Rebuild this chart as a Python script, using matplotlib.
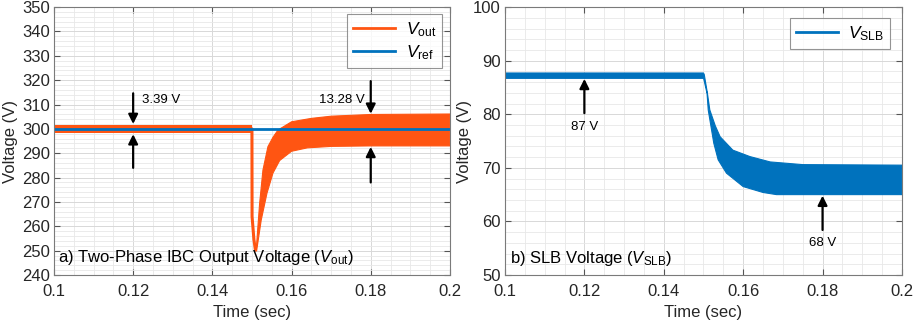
import numpy as np
import matplotlib
matplotlib.use('Agg')
from matplotlib import pyplot as plt

plt.rcParams['font.family'] = 'Liberation Sans'
plt.rcParams['mathtext.fontset'] = 'custom'
plt.rcParams['mathtext.rm'] = 'Liberation Sans'
plt.rcParams['mathtext.it'] = 'Liberation Sans:italic'

# ---- data ----
# a) Vout: steady ripple band before the load step
vout_pre_t = [0.100, 0.150]
vout_pre_lo = [298.4, 298.4]
vout_pre_hi = [301.7, 301.7]
# fast drop right after the step
vout_dip_t = [0.1500, 0.15003, 0.1505, 0.15088]
vout_dip_v = [300.0, 264.0, 254.5, 250.2]
# ripple envelope after the step (upper and lower)
vout_hi_t = [0.15088, 0.15109, 0.15194, 0.15278, 0.15404, 0.1553, 0.15657, 0.160, 0.165, 0.170, 0.180, 0.200]
vout_hi = [250.2, 250.6, 269.4, 283.1, 292.7, 296.5, 299.5, 302.9, 304.3, 305.2, 305.9, 306.1]
vout_lo_t = [0.15088, 0.15117, 0.15235, 0.1538, 0.1553, 0.1570, 0.1600, 0.1640, 0.1700, 0.1800, 0.2000]
vout_lo = [250.2, 249.8, 262.6, 273.6, 281.8, 287.0, 290.8, 292.2, 292.8, 293.0, 293.0]
vref_t = [0.1, 0.2]
vref = [300, 300]

# b) VSLB envelope
slb_hi_t = [0.100, 0.1500, 0.1502, 0.1510, 0.1516, 0.1530, 0.1542, 0.1574, 0.1617, 0.1668, 0.1750, 0.2000]
slb_hi = [87.7, 87.7, 87.4, 83.9, 80.8, 77.8, 75.8, 73.3, 72.1, 71.1, 70.6, 70.5]
slb_lo_t = [0.100, 0.1500, 0.1501, 0.1509, 0.1512, 0.1526, 0.1537, 0.1558, 0.1600, 0.1650, 0.1684, 0.2000]
slb_lo = [86.7, 86.7, 86.5, 83.9, 80.8, 74.6, 71.5, 69.0, 66.5, 65.4, 65.0, 65.0]

xticks = [0.1, 0.12, 0.14, 0.16, 0.18, 0.2]
xticklabels = ['0.1', '0.12', '0.14', '0.16', '0.18', '0.2']

orange = '#FF5512'
blue = '#0072BD'

fig = plt.figure(figsize=(9.13, 3.22), dpi=100)
ax1 = fig.add_axes([0.0591, 0.146, 0.4337, 0.832])
ax2 = fig.add_axes([0.5531, 0.146, 0.4348, 0.832])


def style(ax, ylim, yticks, ylab_x):
    ax.set_xlim(0.1, 0.2)
    ax.set_ylim(*ylim)
    ax.set_xticks(xticks)
    ax.set_xticklabels(xticklabels)
    ax.set_yticks(yticks)
    ax.set_xticks(np.arange(0.1, 0.2001, 0.005), minor=True)
    ax.set_yticks(np.arange(ylim[0], ylim[1] + 0.01, 2), minor=True)
    ax.grid(which='major', color='#d8d8d8', lw=0.7)
    ax.grid(which='minor', color='#e8e8e8', lw=0.6)
    ax.set_axisbelow(True)
    ax.tick_params(which='both', direction='in', top=True, right=True,
                   labelsize=12, colors='#555555', labelcolor='#262626')
    ax.tick_params(which='major', length=4)
    ax.tick_params(axis='y', which='major', pad=3)
    ax.tick_params(axis='x', which='major', pad=6.5)
    ax.tick_params(which='minor', length=0)
    for s in ax.spines.values():
        s.set_color('#7a7a7a')
        s.set_linewidth(0.8)
    ax.set_xlabel('Time (sec)', fontsize=12, color='#262626')
    ax.set_ylabel('Voltage (V)', fontsize=12, color='#262626')
    ax.xaxis.set_label_coords(0.5, -0.112)
    ax.yaxis.set_label_coords(ylab_x, 0.5)


def arrow(ax, x, y0, y1):
    ax.annotate('', xy=(x, y1), xytext=(x, y0),
                arrowprops=dict(arrowstyle='-|>', color='k', lw=1.6,
                                mutation_scale=14, shrinkA=0, shrinkB=0))


# ---- a) ----
style(ax1, (240, 350), np.arange(240, 351, 10), -0.092)
ax1.fill_between(vout_pre_t, vout_pre_lo, vout_pre_hi, color=orange, lw=0)
ax1.plot(vout_dip_t, vout_dip_v, color=orange, lw=2.2, solid_capstyle='round')
ax1.fill(np.concatenate([vout_hi_t, vout_lo_t[::-1]]),
         np.concatenate([vout_hi, vout_lo[::-1]]), color=orange, lw=0.8, ec=orange)
ax1.plot([], [], color=orange, lw=2, label=r'$V_{\rm out}$')
ax1.plot(vref_t, vref, color=blue, lw=2, label=r'$V_{\rm ref}$')
leg = ax1.legend(loc='upper right', fontsize=12.5, handlelength=2.4, handletextpad=0.6,
                 fancybox=False, edgecolor='#7a7a7a', borderpad=0.35, labelspacing=0.25,
                 borderaxespad=0, bbox_to_anchor=(0.98, 0.974))
leg.get_frame().set_linewidth(0.8)

arrow(ax1, 0.12, 314.6, 302.0)
arrow(ax1, 0.12, 284.0, 297.8)
ax1.text(0.1222, 311.8, '3.39 V', fontsize=9.5, va='center', ha='left')
arrow(ax1, 0.18, 319.6, 306.2)
arrow(ax1, 0.18, 278.0, 292.6)
ax1.text(0.1785, 311.8, '13.28 V', fontsize=9.5, va='center', ha='right')
ax1.text(0.101, 245.3, r'a) Two-Phase IBC Output Voltage ($V_{\rm out}$)',
         fontsize=12, va='baseline', ha='left')

# ---- b) ----
style(ax2, (50, 100), np.arange(50, 101, 10), -0.083)
ax2.fill(np.concatenate([slb_hi_t, slb_lo_t[::-1]]),
         np.concatenate([slb_hi, slb_lo[::-1]]), color=blue, lw=0.8, ec=blue)
ax2.plot([], [], color=blue, lw=2, label=r'$V_{\rm SLB}$')
leg2 = ax2.legend(loc='upper right', fontsize=12.5, handlelength=2.4, handletextpad=0.6,
                  fancybox=False, edgecolor='#7a7a7a', borderpad=0.35,
                  borderaxespad=0, bbox_to_anchor=(0.97, 0.959))
leg2.get_frame().set_linewidth(0.8)

arrow(ax2, 0.12, 80.2, 86.6)
ax2.text(0.12, 78.7, '87 V', fontsize=9.5, va='top', ha='center')
arrow(ax2, 0.18, 58.4, 64.8)
ax2.text(0.18, 57.0, '68 V', fontsize=9.5, va='top', ha='center')
ax2.text(0.1013, 52.2, r'b) SLB Voltage ($V_{\rm SLB}$)',
         fontsize=12, va='baseline', ha='left')

fig.savefig('out.png', dpi=100)
